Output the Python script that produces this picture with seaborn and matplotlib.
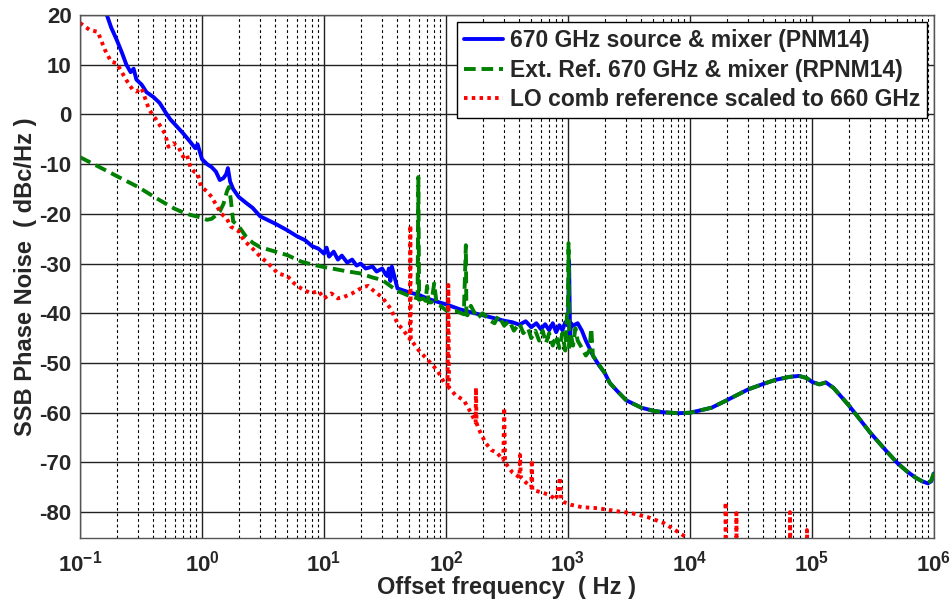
import numpy as np
import pandas as pd
import matplotlib
matplotlib.use("Agg")
import matplotlib.pyplot as plt
import matplotlib.ticker as mticker
import seaborn as sns

# ---------------- data ----------------
blue_f = [0.166, 0.18, 0.2, 0.22, 0.24, 0.26, 0.275, 0.29, 0.32, 0.35, 0.4, 0.45, 0.5, 0.55, 0.6, 0.7,
          0.8, 0.88, 0.92, 1.0, 1.1, 1.2, 1.3, 1.4, 1.5, 1.58, 1.63, 1.7, 1.8, 2.0, 2.3, 2.6, 3.0, 3.5,
          4.0, 5.0, 6.0, 7.0, 8.0, 9.0, 10, 10.5, 11, 12, 13, 14, 15.5, 17, 18.5, 20, 22, 25, 27, 30,
          32, 33, 34, 35, 36, 40, 50, 60, 70, 80, 100, 130, 160, 200, 250, 300, 350, 400, 450, 500,
          550, 600, 650, 700, 750, 800, 850, 900, 950, 1000, 1020,
          1040, 1060, 1100, 1200, 1300, 1400, 1500, 1600, 1800, 2000, 2200, 2500, 3000, 4000, 5000,
          6000, 8000, 10000, 15000, 20000, 30000, 40000, 50000, 65000, 78000, 90000, 100000, 115000,
          130000, 150000, 200000, 300000, 400000, 500000, 600000, 700000, 800000, 890000, 950000,
          1000000]
blue_db = [20, 17.5, 15, 12.5, 10, 8.5, 9.2, 7, 6, 4.5, 3.5, 2.3, 0.5, -1.0, -2.0, -3.8,
           -5.5, -6.8, -6.0, -9.0, -10.0, -10.6, -11.5, -13.2, -12.8, -12.0, -10.8, -13.5, -15.0, -16.6,
           -17.8, -18.8, -20.5, -21.3, -22.0, -23.3, -24.5, -25.3, -26.5, -27.0, -28.0, -26.8, -28.6,
           -27.6, -29.2, -28.4, -29.8, -29.2, -30.4, -30.0, -31.0, -30.6, -31.6, -31.0,
           -32.2, -32.5, -31.0, -33.5, -30.6, -35.0, -35.8, -36.3, -37.0,
           -37.5, -38.2, -39.2, -39.8, -40.4, -41.0, -41.5, -41.8, -42.3, -41.6, -42.8,
           -42.0, -43.2, -42.2, -43.4, -42.0, -43.8, -42.4, -43.4, -41.8, -42.5, -29.3,
           -44.5, -42.0, -42.5, -42.0, -43.5, -45.5, -47.0, -48.5,
           -50.5, -52.0, -54.0, -55.5, -57.5, -59.0, -59.6, -59.9, -60.1, -60.0, -59.0, -57.5, -55.3,
           -54.2, -53.4, -52.8, -52.6, -53.0, -53.8, -54.3, -53.9, -55.0, -58.5, -64.0, -67.5, -70.1,
           -71.8, -73.0, -73.8, -74.2, -73.8, -72.2]

green_f = [0.1, 0.15, 0.2, 0.3, 0.4, 0.5, 0.6, 0.7, 0.8, 0.9, 1.0, 1.1, 1.2, 1.3, 1.4, 1.5, 1.6, 1.66,
           1.72, 1.8, 2.0, 2.3, 2.6, 3.0, 4.0, 5.0, 6.5, 8.0, 10, 15, 20, 25, 30, 35, 40, 50, 58.5, 59.3,
           60.2, 65, 68, 70, 72, 76, 80, 84, 90, 100, 120, 140, 145.5, 147, 150, 160, 180, 200, 230,
           250, 270, 300, 330, 360, 400, 430, 470, 500, 540, 580, 620, 660, 700, 750, 800, 850, 900,
           950, 980, 1000, 1010, 1025, 1050, 1100, 1150, 1200, 1300, 1400, 1500, 1550, 1600, 1700,
           2000, 2200, 2500, 3000, 4000, 5000, 6000, 8000, 10000, 15000, 20000, 30000, 40000, 50000,
           65000, 78000, 90000, 100000, 115000, 130000, 150000, 200000, 300000, 400000, 500000,
           600000, 700000, 800000, 890000, 950000, 1000000]
green_db = [-8.6, -10.8, -12.4, -14.6, -16.5, -17.9, -19.0, -19.7, -20.2, -20.5, -20.8, -21.2, -21.0,
            -20.3, -19.5, -18.0, -15.5, -14.6, -17.0, -21.5, -22.5, -24.6, -25.8, -26.7, -27.6, -28.3,
            -29.6, -30.2, -30.7, -31.5, -32.0, -32.8, -33.3, -34.5, -35.5, -36.5, -37.0, -12.6, -37.3,
            -37.0, -37.5, -34.5, -37.8, -37.8, -34.0, -38.2, -38.5, -39.4, -39.5, -40.2, -26.3, -40.3,
            -40.4, -38.5, -41.0, -40.0, -41.5, -42.0, -40.5, -42.5, -41.5, -43.5, -42.0, -44.0, -43.0,
            -45.0, -43.5, -45.5, -43.5, -46.0, -44.0, -46.5, -44.5, -47.0, -44.0, -47.5, -40.5, -38.0,
            -25.9, -47.5, -44.0, -46.5, -43.0, -45.5, -47.0, -48.5, -47.5, -43.0, -48.5, -49.5,
            -52.0, -54.0, -55.5, -57.5, -59.0, -59.6, -59.9, -60.1, -60.0, -59.0, -57.5, -55.3, -54.2,
            -53.4, -52.8, -52.6, -53.0, -53.8, -54.3, -53.9, -55.0, -58.5, -64.0, -67.5, -70.1, -71.8,
            -73.0, -73.8, -74.2, -73.6, -72.0]

red_f = [0.1, 0.12, 0.14, 0.16, 0.18, 0.2, 0.22, 0.24, 0.27, 0.29, 0.32, 0.35, 0.37, 0.42, 0.46, 0.5,
         0.53, 0.58, 0.64, 0.7, 0.75, 0.8, 0.86, 0.92, 0.98, 1.1, 1.2, 1.43, 1.6, 1.73, 2.0, 2.2, 2.6,
         3.0, 3.5, 4.2, 5.0, 5.7, 6.5, 7.8, 9, 10, 11.5, 13, 14.6, 17, 21, 23, 25.6, 30, 35, 40, 45,
         50.5, 51, 51.5, 60, 71, 85, 97, 103, 104.5, 106, 120, 140, 160, 175, 176, 178, 183, 210, 235,
         260, 295, 300, 305, 350, 400, 405, 410, 450, 500, 505, 510, 600, 700, 800, 860, 880, 930,
         1050, 1300, 1750, 2500, 3300, 4500, 6100, 8000, 9500, 10000,
         19600, 19600, 19700, 24000, 24000, 24100, 66000, 66000, 66500, 91000, 91000, 91500]
red_db = [18.4, 17.0, 16.6, 13.0, 10.6, 10.3, 8.5, 6.9, 5.0, 4.6, 5.3, 2.5, 0.9, -1.0, -2.5, -4.0,
          -6.5, -5.8, -6.5, -8.5, -8.0, -10.5, -11.5, -11.8, -14.5, -15.5, -16.6, -19.9, -21.0, -22.6,
          -23.5, -25.3, -27.0, -28.6, -30.0, -32.0, -32.5, -34.0, -35.0, -36.0, -35.5, -37.0, -36.0,
          -37.0, -36.7, -36.0, -34.7, -34.5, -35.5, -36.8, -39.0, -42.0, -43.5, -45.2, -22.3, -45.3,
          -47.5, -49.4, -51.5, -54.0, -54.5, -34.3, -55.0, -56.5, -57.5, -60.0, -62.0, -55.0, -62.0,
          -63.0, -66.0, -67.5, -68.0, -69.5, -59.0, -70.0, -72.0, -73.0, -68.5, -73.0, -74.0, -75.0,
          -69.5, -75.5, -76.0, -76.5, -77.5, -73.0, -77.5, -78.0, -78.5, -79.0, -79.2, -79.8, -80.2,
          -81.0, -82.2, -84.0, -85.2, -88.0,
          -88.0, -78.0, -88.0, -88.0, -80.2, -88.0, -88.0, -80.0, -88.0, -88.0, -83.6, -88.0]

labels = ["670 GHz source & mixer (PNM14)",
          "Ext. Ref. 670 GHz & mixer (RPNM14)",
          "LO comb reference scaled to 660 GHz"]
y_ticks = [20, 10, 0, -10, -20, -30, -40, -50, -60, -70, -80]
x_exps = [-1, 0, 1, 2, 3, 4, 5, 6]

# ---------------- style ----------------
sns.set_style("white")
plt.rcParams["font.family"] = ["Liberation Sans", "DejaVu Sans"]
plt.rcParams["font.weight"] = "bold"
plt.rcParams["axes.unicode_minus"] = False
plt.rcParams["mathtext.fontset"] = "custom"
plt.rcParams["mathtext.bf"] = "Liberation Sans:bold"
plt.rcParams["mathtext.rm"] = "Liberation Sans:bold"

fig = plt.figure(figsize=(9.53, 6.04), dpi=100)
ax = fig.add_axes([80 / 953, 1 - 538 / 604, (934 - 80) / 953, (538 - 15) / 604])

df_b = pd.DataFrame({"f": blue_f, "db": blue_db})
df_g = pd.DataFrame({"f": green_f, "db": green_db})
df_r = pd.DataFrame({"f": red_f, "db": red_db})

lw = 2.8
sns.lineplot(data=df_b, x="f", y="db", ax=ax, color="#0000ff", linewidth=lw,
             sort=False, estimator=None, label=labels[0])
sns.lineplot(data=df_g, x="f", y="db", ax=ax, color="#008000", linewidth=lw,
             sort=False, estimator=None, label=labels[1])
sns.lineplot(data=df_r, x="f", y="db", ax=ax, color="#ff0000", linewidth=lw,
             sort=False, estimator=None, label=labels[2])
lines = ax.get_lines()
lines[1].set_linestyle((0, (3.0, 1.5)))
lines[2].set_linestyle((0, (0.9, 1.1)))

ax.set_xscale("log")
ax.set_xlim(0.1, 1e6)
ax.set_ylim(-85.2, 20)

ax.set_xticks([10.0 ** e for e in x_exps])
ax.set_xticklabels([r"$\mathbf{10^{%d}}$" % e for e in x_exps])
ax.xaxis.set_minor_locator(mticker.LogLocator(base=10, subs=np.arange(2, 10), numticks=100))
ax.xaxis.set_minor_formatter(mticker.NullFormatter())
ax.set_yticks(y_ticks)
ax.set_yticklabels([str(v) for v in y_ticks])

ax.grid(True, which="major", axis="both", color="#222222", linewidth=1.0, linestyle="-")
ax.grid(True, which="minor", axis="x", color="#000000", linewidth=0.8, linestyle=(0, (2.5, 2.5)))
ax.set_axisbelow(True)

ax.tick_params(axis="y", which="major", labelsize=16, length=0, pad=6)
ax.tick_params(axis="x", which="major", labelsize=16, length=0, pad=9)
ax.tick_params(axis="x", which="minor", length=0)
for s in ax.spines.values():
    s.set_color("#555555")
    s.set_linewidth(1.0)

ax.set_xlabel("Offset frequency  ( Hz )", fontsize=17, fontweight="bold", labelpad=0)
ax.set_ylabel("SSB Phase Noise  ( dBc/Hz )", fontsize=17, fontweight="bold", labelpad=2)

leg = ax.legend(loc="upper right", fontsize=16.5, frameon=True, fancybox=False, framealpha=1,
                edgecolor="black", borderaxespad=0.3, handlelength=1.7, handletextpad=0.3,
                labelspacing=0.3, borderpad=0.3)
leg.get_frame().set_linewidth(1.0)
for t in leg.get_texts():
    t.set_fontweight("bold")

fig.savefig("out.png", dpi=100)
